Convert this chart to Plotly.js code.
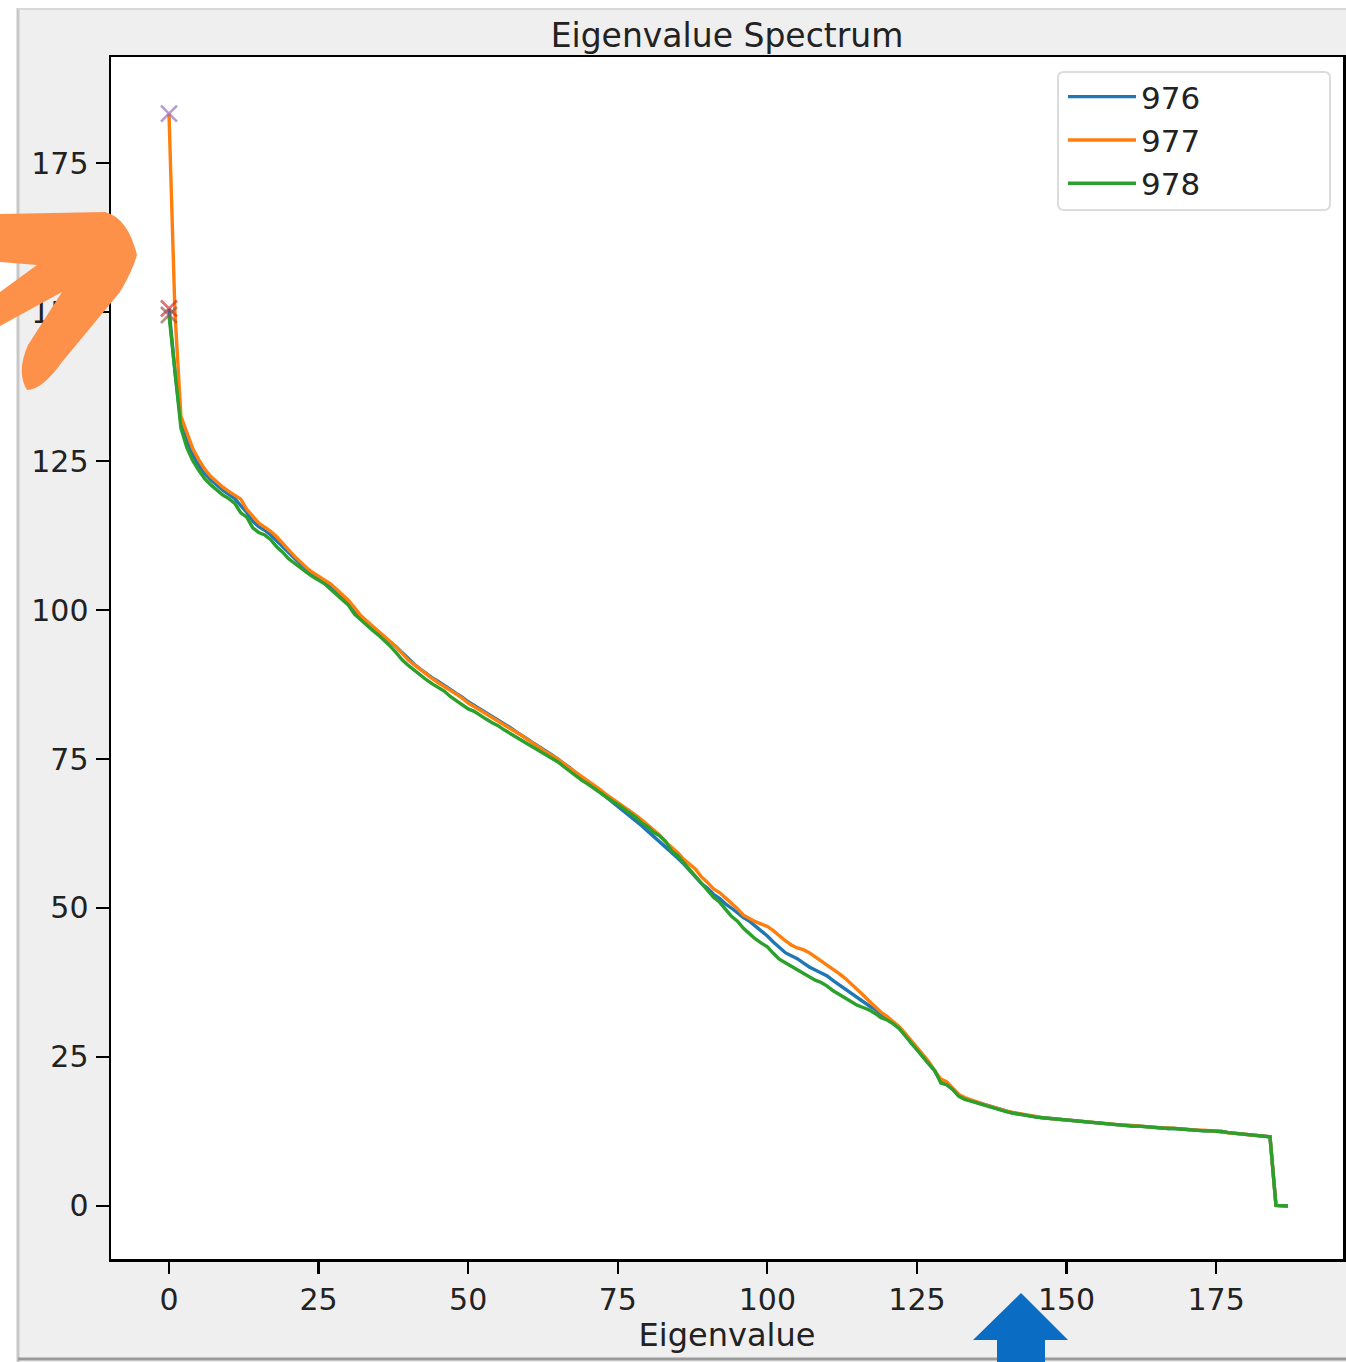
<!DOCTYPE html>
<html>
<head>
<meta charset="utf-8">
<script src="https://cdn.plot.ly/plotly-3.0.1.min.js"></script>
<style>html,body{margin:0;padding:0;background:#efefef;} #chart{width:1346px;height:1362px;}</style>
</head>
<body>
<div id="chart"></div>
<script>
// ---- data ----
const seriesNames = ["976", "977", "978"];

const eig976 = [150.6,140.0,131.4,128.3,126.0,124.3,122.9,121.8,121.0,120.1,
119.4,118.7,117.5,116.4,114.9,114.0,113.4,112.6,111.6,110.6,
109.5,108.6,107.7,106.8,106.1,105.5,104.9,104.1,103.2,102.3,
101.3,100.0,98.9,98.0,97.2,96.3,95.5,94.6,93.8,92.8,
91.7,90.9,90.1,89.3,88.6,88.0,87.4,86.7,86.0,85.4,
84.6,84.0,83.4,82.8,82.2,81.6,81.0,80.3,79.6,79.0,
78.3,77.6,77.0,76.3,75.7,75.0,74.3,73.5,72.7,71.9,
71.1,70.3,69.5,68.6,67.8,67.0,66.2,65.4,64.6,63.8,
62.9,62.0,61.1,60.3,59.4,58.4,57.4,56.3,55.2,54.1,
53.3,52.3,51.6,50.7,50.0,49.2,48.4,47.8,47.0,46.1,
45.3,44.3,43.3,42.5,42.0,41.5,40.8,40.1,39.6,39.1,
38.6,37.8,37.1,36.3,35.6,34.9,34.2,33.6,33.0,32.2,
31.4,30.7,29.9,28.8,27.4,26.3,25.0,23.9,22.6,20.9,
20.4,19.6,18.5,18.0,17.7,17.3,17.0,16.7,16.4,16.1,
15.8,15.6,15.4,15.2,15.1,14.9,14.8,14.7,14.6,14.5,
14.4,14.3,14.2,14.1,14.0,13.9,13.9,13.8,13.7,13.6,
13.5,13.4,13.4,13.3,13.2,13.2,13.1,13.0,13.0,12.9,
12.8,12.8,12.7,12.6,12.6,12.6,12.5,12.3,12.2,12.1,
12.0,11.9,11.8,11.7,11.6,0.1,0.0,0.0];

const eig977 = [183.3,149.8,132.5,129.6,127.0,125.2,123.6,122.4,121.5,120.6,
119.9,119.2,118.6,116.9,115.7,114.6,113.9,113.2,112.3,111.3,
110.1,109.0,108.0,107.1,106.3,105.7,105.1,104.4,103.5,102.6,
101.6,100.4,99.1,98.2,97.3,96.4,95.6,94.7,93.8,92.7,
91.6,90.8,90.0,89.2,88.5,87.8,87.2,86.6,85.9,85.2,
84.4,83.8,83.2,82.6,82.0,81.4,80.8,80.2,79.5,78.9,
78.2,77.5,76.9,76.2,75.6,75.0,74.2,73.5,72.8,72.1,
71.4,70.6,69.9,69.1,68.4,67.8,67.1,66.4,65.6,64.8,
64.0,63.1,62.2,61.0,60.2,59.3,58.2,57.4,56.5,55.2,
54.3,53.2,52.6,51.7,50.8,49.9,48.8,48.2,47.7,47.3,
46.9,46.2,45.3,44.5,43.8,43.3,43.0,42.5,41.8,41.1,
40.5,39.8,39.0,38.2,37.3,36.3,35.4,34.4,33.5,32.5,
31.8,31.0,30.1,29.0,27.8,26.6,25.3,24.2,22.6,21.3,
20.8,19.7,18.7,18.2,17.8,17.4,17.1,16.8,16.5,16.1,
15.9,15.7,15.5,15.3,15.1,15.0,14.8,14.7,14.6,14.5,
14.4,14.3,14.2,14.1,14.0,14.0,13.9,13.8,13.7,13.6,
13.6,13.5,13.4,13.3,13.3,13.2,13.1,13.1,13.0,12.9,
12.9,12.8,12.7,12.7,12.6,12.6,12.5,12.4,12.2,12.1,
12.0,11.9,11.8,11.7,11.6,0.1,0.0,0.0];

const eig978 = [149.5,139.5,130.5,127.2,125.0,123.4,122.0,121.0,120.2,119.3,
118.7,117.9,116.3,115.6,113.8,113.0,112.6,111.8,110.6,109.7,
108.6,107.8,107.0,106.3,105.6,105.0,104.4,103.5,102.6,101.8,
100.8,99.3,98.4,97.4,96.6,95.8,94.9,93.9,92.8,91.6,
90.7,89.9,89.0,88.3,87.6,87.0,86.4,85.5,84.8,84.2,
83.4,83.0,82.3,81.7,81.1,80.6,79.9,79.3,78.7,78.1,
77.4,76.8,76.3,75.6,75.0,74.5,73.7,72.9,72.2,71.4,
70.8,70.1,69.4,68.6,68.0,67.4,66.7,66.0,65.2,64.3,
63.6,62.7,62.1,61.2,59.6,58.8,57.6,56.4,55.3,54.0,
53.0,51.8,51.0,49.8,48.6,47.8,46.6,45.7,44.8,44.1,
43.5,42.4,41.4,40.8,40.2,39.6,39.1,38.5,37.9,37.5,
36.9,36.1,35.5,34.8,34.2,33.7,33.3,32.9,32.3,31.6,
31.2,30.6,29.8,28.6,27.2,26.2,24.9,23.8,22.7,20.6,
20.3,19.5,18.4,17.9,17.6,17.3,17.0,16.7,16.4,16.0,
15.8,15.6,15.4,15.2,15.1,14.9,14.8,14.7,14.6,14.5,
14.4,14.3,14.2,14.1,14.0,13.9,13.9,13.8,13.7,13.6,
13.5,13.4,13.4,13.3,13.2,13.2,13.1,13.0,13.0,12.9,
12.8,12.8,12.7,12.6,12.6,12.6,12.5,12.3,12.2,12.1,
12.0,11.9,11.8,11.7,11.6,0.1,0.0,0.0];

const xTicks = [0, 25, 50, 75, 100, 125, 150, 175];
const yTicks = [0, 25, 50, 75, 100, 125, 150, 175];

// ---- figure ----
const W = 1346, H = 1362;
const M = {l: 111, r: 3, t: 57, b: 103};
const PW = W - M.l - M.r, PH = H - M.t - M.b;
function px(x) { return (x - M.l) / PW; }
function py(y) { return (H - M.b - y) / PH; }
function pathPx(cmds) {
  return cmds.map(c => {
    if (c[0] === 'Z') return 'Z';
    let out = c[0];
    for (let i = 1; i < c.length; i += 2) out += ' ' + px(c[i]).toFixed(5) + ',' + py(c[i + 1]).toFixed(5);
    return out;
  }).join(' ');
}

const colors = ['#1f77b4', '#ff7f0e', '#2ca02c'];
const series = [eig976, eig977, eig978];
const idx = eig976.map((_, i) => i);

const traces = series.map((s, k) => ({
  type: 'scatter', mode: 'lines', x: idx, y: s, name: seriesNames[k],
  line: {color: colors[k], width: 3.4}
}));
const markerColors = ['#d62728', '#9467bd', '#8c564b'];
series.forEach((s, k) => {
  traces.push({
    type: 'scatter', mode: 'markers', x: [idx[0]], y: [s[0]], showlegend: false,
    marker: {symbol: 'x-thin', size: 16, opacity: 0.65, line: {color: markerColors[k], width: 2.6}, color: markerColors[k]}
  });
});

const font = {family: 'DejaVu Sans, sans-serif', color: '#222222'};

const shapes = [
  // window edges of the screenshot
  {type: 'rect', xref: 'paper', yref: 'paper', x0: px(0), x1: px(17), y0: py(H), y1: py(0), fillcolor: '#ffffff', line: {width: 0}, layer: 'below'},
  {type: 'rect', xref: 'paper', yref: 'paper', x0: px(0), x1: px(W), y0: py(8), y1: py(0), fillcolor: '#ffffff', line: {width: 0}, layer: 'below'},
  {type: 'line', xref: 'paper', yref: 'paper', x0: px(18), x1: px(18), y0: py(H), y1: py(8), line: {color: '#c8c8c8', width: 3}, layer: 'below'},
  {type: 'line', xref: 'paper', yref: 'paper', x0: px(18), x1: px(W), y0: py(9), y1: py(9), line: {color: '#d8d8d8', width: 2}, layer: 'below'},
  {type: 'line', xref: 'paper', yref: 'paper', x0: px(18), x1: px(W), y0: py(1359), y1: py(1359), line: {color: '#9a9a9a', width: 3}, layer: 'below'},
  // legend frame
  {type: 'path', xref: 'paper', yref: 'paper', layer: 'above',
   path: pathPx([['M',1064,72],['L',1324,72],['Q',1330,72,1330,78],['L',1330,204],['Q',1330,210,1324,210],['L',1064,210],['Q',1058,210,1058,204],['L',1058,78],['Q',1058,72,1064,72],['Z']]),
   fillcolor: 'rgba(255,255,255,0.85)', line: {color: '#dcdcdc', width: 2}},
  // orange hand-drawn arrow
  {type: 'path', xref: 'paper', yref: 'paper', layer: 'above',
   path: pathPx([['M',0,214],['L',105,212],['Q',128,218,137,255],['Q',132,272,120,292],['L',62,362],['Q',42,390,27,390],['Q',16,372,28,345],['L',62,292],['L',0,326],['L',0,292],['L',37,265],['L',0,262],['Z']]),
   fillcolor: '#fd914a', line: {width: 0}},
  // blue arrow
  {type: 'path', xref: 'paper', yref: 'paper', layer: 'above',
   path: pathPx([['M',1021,1293],['L',1068,1340],['L',1045,1340],['L',1045,1362],['L',997,1362],['L',997,1340],['L',973,1340],['Z']]),
   fillcolor: '#0a6cc2', line: {width: 0}}
];

const layout = {
  width: W, height: H,
  margin: M,
  paper_bgcolor: '#efefef',
  plot_bgcolor: '#ffffff',
  font: font,
  showlegend: true,
  title: {text: 'Eigenvalue Spectrum', font: {family: font.family, size: 33, color: '#222'}, x: 0.5, xref: 'paper', xanchor: 'center', y: 1 - 35 / H, yref: 'container', yanchor: 'middle'},
  xaxis: {
    range: [-9.69, 196.2], tickvals: xTicks, ticktext: xTicks.map(String),
    showline: true, mirror: true, linecolor: '#000', linewidth: 2.5,
    ticks: 'outside', ticklen: 12, tickwidth: 2.2, tickcolor: '#000',
    showgrid: false, zeroline: false,
    tickfont: {family: font.family, size: 30, color: '#222'},
    title: {text: 'Eigenvalue', font: {family: font.family, size: 32, color: '#222'}, standoff: 2}
  },
  yaxis: {
    range: [-8.9, 192.8], tickvals: yTicks, ticktext: yTicks.map(String),
    showline: true, mirror: true, linecolor: '#000', linewidth: 2.5,
    ticks: 'outside', ticklen: 13, tickwidth: 2.2, tickcolor: '#000',
    showgrid: false, zeroline: false,
    tickfont: {family: font.family, size: 30, color: '#222'},
    ticklabelstandoff: 1
  },
  legend: {
    x: px(1063), y: py(70), xanchor: 'left', yanchor: 'top',
    bgcolor: 'rgba(0,0,0,0)', borderwidth: 0,
    font: {family: font.family, size: 31, color: '#222'},
    itemwidth: 68,
    tracegroupgap: 0
  },
  shapes: shapes
};

Plotly.newPlot('chart', traces, layout, {displayModeBar: false, staticPlot: true});
</script>
</body>
</html>
